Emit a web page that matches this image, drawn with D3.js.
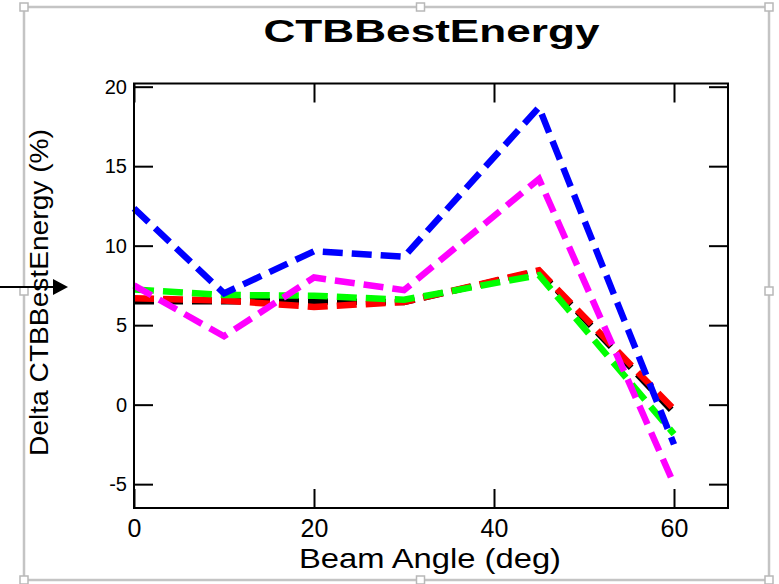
<!DOCTYPE html>
<html>
<head>
<meta charset="utf-8">
<script src="https://cdn.jsdelivr.net/npm/d3@7"></script>
<style>
  html, body { margin: 0; padding: 0; background: #fff; }
  svg { display: block; }
  text { font-family: "Liberation Sans", Arial, Helvetica, sans-serif; fill: #000; }
</style>
</head>
<body>
<svg id="chart" width="779" height="584"></svg>
<script>
// ---- data ----
const angles = [0, 10, 20, 30, 45, 60];
const seriesBlack   = [6.5, 6.5, 6.5, 6.45, 8.4, -0.5];
const seriesRed     = [6.7, 6.55, 6.15, 6.45, 8.45, -0.3];
const seriesGreen   = [7.25, 6.9, 6.85, 6.6, 8.15, -1.85];
const seriesBlue    = [12.35, 7.0, 9.65, 9.3, 18.7, -2.5];
const seriesMagenta = [7.5, 4.3, 8.0, 7.2, 14.2, -5.0];
const seriesColors  = ["#000000", "#ff0000", "#00ff00", "#0000ff", "#ff00ff"];
const xTicks = [0, 20, 40, 60];
const yTicks = [-5, 0, 5, 10, 15, 20];
const titleText = "CTBBestEnergy";
const xTitle = "Beam Angle (deg)";
const yTitle = "Delta CTBBestEnergy (%)";

const svg = d3.select("#chart");

// ---- outer selection frame (grey with handles) ----
const fr = {l: 24, t: 7, r: 769, b: 580};
svg.append("rect").attr("x", fr.l).attr("y", fr.t)
  .attr("width", fr.r - fr.l).attr("height", fr.b - fr.t)
  .attr("fill", "none").attr("stroke", "#c4c4c4").attr("stroke-width", 2.5);
const handles = [
  [fr.l, fr.t], [(fr.l + fr.r) / 2 + 24, fr.t], [fr.r, fr.t],
  [fr.l, 291], [fr.r, 291],
  [fr.l, fr.b], [(fr.l + fr.r) / 2 + 24, fr.b], [fr.r, fr.b]
];
svg.selectAll("rect.handle").data(handles).enter().append("rect")
  .attr("class", "handle")
  .attr("x", d => d[0] - 4).attr("y", d => d[1] - 4)
  .attr("width", 8).attr("height", 8)
  .attr("fill", "#fff").attr("stroke", "#b8b8b8").attr("stroke-width", 1.5);

// ---- plot area ----
const P = {l: 134, t: 83.5, r: 728, b: 508};
const x = d3.scaleLinear().domain([0, 66]).range([P.l, P.r]);
const y = d3.scaleLinear().domain([-6.5, 20.2]).range([P.b, P.t]);

const TL = 19;
const fmt = d => String(d);
const gB = svg.append("g").attr("transform", `translate(0,${P.b})`)
  .call(d3.axisBottom(x).tickValues(xTicks).tickSize(-TL).tickSizeOuter(0).tickPadding(11).tickFormat(fmt));
const gT = svg.append("g").attr("transform", `translate(0,${P.t})`)
  .call(d3.axisTop(x).tickValues(xTicks).tickSize(-TL).tickSizeOuter(0).tickFormat(""));
const gL = svg.append("g").attr("transform", `translate(${P.l},0)`)
  .call(d3.axisLeft(y).tickValues(yTicks).tickSize(-TL).tickSizeOuter(0).tickPadding(7).tickFormat(fmt));
const gR = svg.append("g").attr("transform", `translate(${P.r},0)`)
  .call(d3.axisRight(y).tickValues(yTicks).tickSize(-TL).tickSizeOuter(0).tickFormat(""));

[gB, gT, gL, gR].forEach(g => {
  g.select(".domain").remove();
  g.selectAll(".tick line").attr("stroke", "#000").attr("stroke-width", 2);
});
gB.selectAll(".tick text").style("font-size", "25px").attr("fill", "#000");
gL.selectAll(".tick text").style("font-size", "20px").attr("fill", "#000");

// ---- data lines ----
const allSeries = [seriesBlack, seriesRed, seriesGreen, seriesBlue, seriesMagenta];
const line = d3.line().x((d, i) => x(angles[i])).y(d => y(d));
svg.append("g").selectAll("path.series").data(allSeries).enter().append("path")
  .attr("class", "series")
  .attr("d", d => line(d))
  .attr("fill", "none")
  .attr("stroke", (d, i) => seriesColors[i])
  .attr("stroke-width", 6.5)
  .attr("stroke-dasharray", "20,9")
  .attr("stroke-linejoin", "miter");

// frame on top
svg.append("rect").attr("x", P.l).attr("y", P.t)
  .attr("width", P.r - P.l).attr("height", P.b - P.t)
  .attr("fill", "none").attr("stroke", "#000").attr("stroke-width", 2);

// ---- titles ----
svg.append("text").attr("x", 431.5).attr("y", 42)
  .attr("text-anchor", "middle").style("font-size", "32px").style("font-weight", "bold")
  .attr("textLength", 336).attr("lengthAdjust", "spacingAndGlyphs")
  .text(titleText);
svg.append("text").attr("x", 430).attr("y", 568)
  .attr("text-anchor", "middle").style("font-size", "28px")
  .attr("textLength", 262).attr("lengthAdjust", "spacingAndGlyphs")
  .text(xTitle);
svg.append("text").attr("transform", "translate(48,292.5) rotate(-90)")
  .attr("text-anchor", "middle").style("font-size", "25px")
  .attr("textLength", 327).attr("lengthAdjust", "spacingAndGlyphs")
  .text(yTitle);

// ---- pointer arrow ----
svg.append("line").attr("x1", 0).attr("y1", 287).attr("x2", 55).attr("y2", 287)
  .attr("stroke", "#000").attr("stroke-width", 2);
svg.append("path").attr("d", "M53,279 L68,287 L53,295 Z").attr("fill", "#000");
</script>
</body>
</html>
